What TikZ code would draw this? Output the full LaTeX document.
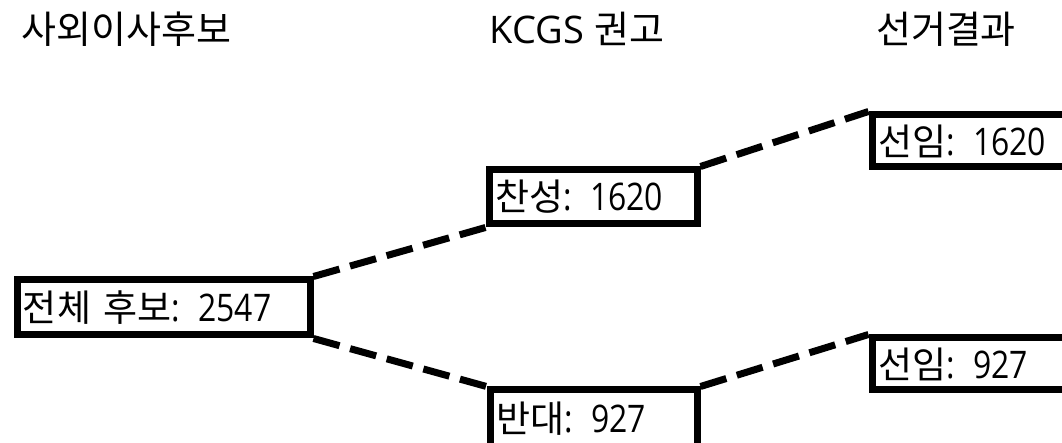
\documentclass[tikz,border=0pt]{standalone}
\usepackage{fontspec}
\setmainfont{Noto Sans CJK KR}
\newfontfamily\latf{Open Sans}
\newfontfamily\latn{Open Sans}[FakeStretch=0.84]
\begin{document}
\begin{tikzpicture}[x=1pt,y=1pt,
  hdr/.style={inner sep=0pt, font=\fontsize{38}{44}\selectfont},
  rbox/.style={draw=black, line width=7pt, inner ysep=0pt, inner xsep=6pt, anchor=north west,
    align=left, font=\fontsize{37}{42}\selectfont, text=black},
  conn/.style={line width=7pt, dash pattern=on 27pt off 11pt}]
\useasboundingbox (0,0) rectangle (1062,443);
\clip (0,0) rectangle (1062,443);
\fill[white] (0,0) rectangle (1062,443);
% headers
\node[hdr] (h1) at (126.5,414) {사외이사후보};
\node[hdr] (h2) at (577,414) {{\latf KCGS }권고};
\node[hdr] (h3) at (946,414) {선거결과};
% boxes (path coordinates; y = 443 - image y)
\node[rbox, minimum width=293pt, minimum height=55pt, text width=281pt] (all) at (13.5,166.5) {전체 후보{\latn\fontsize{38}{42}\selectfont: 2547}};
\node[rbox, minimum width=208pt, minimum height=54pt, text width=196pt] (yes) at (485.5,276.5) {찬성{\latn\fontsize{38}{42}\selectfont: 1620}};
\node[rbox, minimum width=207pt, minimum height=70pt, text width=195pt, text depth=16pt] (no) at (486.5,56.5) {반대{\latn\fontsize{38}{42}\selectfont: 927}};
\node[rbox, minimum width=230pt, minimum height=52pt, text width=218pt] (r1) at (868.5,331.5) {선임{\latn\fontsize{38}{42}\selectfont: 1620}};
\node[rbox, minimum width=230pt, minimum height=52pt, text width=218pt] (r2) at (868.5,108.5) {선임{\latn\fontsize{38}{42}\selectfont: 927}};
% connectors
\draw[conn] (all.north east) -- (yes.south west);
\draw[conn] (all.south east) -- (no.north west);
\draw[conn] (yes.north east) -- (r1.north west);
\draw[conn] (no.north east) -- (r2.north west);
\end{tikzpicture}
\end{document}
